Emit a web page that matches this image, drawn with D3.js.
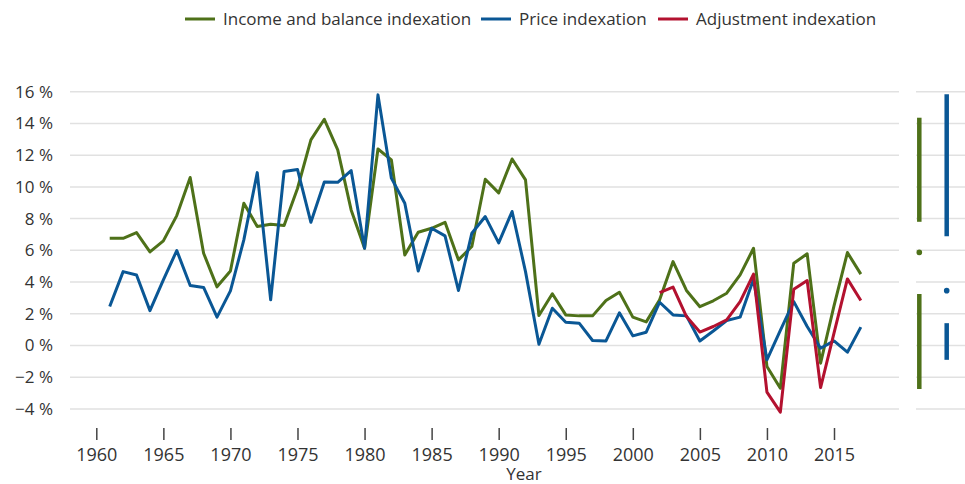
<!DOCTYPE html>
<html>
<head>
<meta charset="utf-8">
<script src="https://cdn.jsdelivr.net/npm/d3@7"></script>
<style>
  html, body { margin: 0; padding: 0; background: #fff; }
  svg { display: block; font-family: "Open Sans", "Noto Sans", sans-serif; }
</style>
</head>
<body>
<svg id="chart" width="965" height="484"></svg>
<script>
// ---- Data ----
const years = d3.range(1961, 2018);
const incomeBalance = [
  6.76, 6.76, 7.12, 5.90, 6.60, 8.19, 10.59, 5.82, 3.70, 4.70,
  8.97, 7.50, 7.65, 7.56, 9.90, 12.96, 14.26, 12.33, 8.55, 6.13,
  12.39, 11.70, 5.71, 7.14, 7.39, 7.77, 5.40, 6.24, 10.48, 9.62,
  11.76, 10.44, 1.89, 3.26, 1.93, 1.87, 1.87, 2.84, 3.36, 1.79,
  1.49, 2.88, 5.29, 3.47, 2.45, 2.82, 3.30, 4.45, 6.13, -1.32,
  -2.69, 5.19, 5.78, -1.11, 2.50, 5.86, 4.50
];
const priceIdx = [
  2.46, 4.66, 4.45, 2.20, 4.14, 5.99, 3.78, 3.66, 1.79, 3.45,
  6.66, 10.90, 2.88, 10.97, 11.10, 7.77, 10.31, 10.29, 11.03, 6.13,
  15.80, 10.55, 8.97, 4.70, 7.39, 6.91, 3.47, 7.08, 8.13, 6.47,
  8.45, 4.66, 0.08, 2.35, 1.47, 1.41, 0.32, 0.29, 2.06, 0.61,
  0.84, 2.73, 1.93, 1.87, 0.29, 0.92, 1.58, 1.79, 4.18, -0.90,
  0.95, 2.77, 1.20, -0.17, 0.29, -0.42, 1.16
];
const adjYears = d3.range(2002, 2018);
const adjustmentIdx = [
  3.34, 3.68, 1.83, 0.85, 1.20, 1.62, 2.77, 4.50, -2.94, -4.20,
  3.55, 4.10, -2.65, 0.78, 4.20, 2.84
];
const seriesNames = ["Income and balance indexation", "Price indexation", "Adjustment indexation"];
const seriesColors = ["#4e7119", "#0a5795", "#b3112f"];
const xTicks = [1960, 1965, 1970, 1975, 1980, 1985, 1990, 1995, 2000, 2005, 2010, 2015];
const yTicks = [-4, -2, 0, 2, 4, 6, 8, 10, 12, 14, 16];
// summary panel: [max, mean+sd, mean, mean-sd, min]
const summaryNames = ["Income and balance indexation", "Price indexation"];
const summaryHigh = [14.36, 15.84];
const summaryUpper = [7.80, 6.89];
const summaryMean = [5.87, 3.46];
const summaryLower = [3.25, 1.41];
const summaryLow = [-2.74, -0.90];

// ---- Layout ----
const svg = d3.select("#chart");
const plotLeft = 70, plotRight = 899;
const panelLeft = 916, panelRight = 965;

const x = d3.scaleLinear().domain([1960, 2015]).range([96.3, 834]);
const y = d3.scaleLinear().domain([-4, 16]).range([409, 91.7]);
const textColor = "#333333";

// gridlines main
svg.append("g").selectAll("line").data(yTicks).join("line")
  .attr("x1", plotLeft).attr("x2", plotRight)
  .attr("y1", d => y(d)).attr("y2", d => y(d))
  .attr("stroke", "#e1e1e1").attr("stroke-width", 1.5);
// gridlines panel
svg.append("g").selectAll("line").data(yTicks).join("line")
  .attr("x1", panelLeft).attr("x2", panelRight)
  .attr("y1", d => y(d)).attr("y2", d => y(d))
  .attr("stroke", "#e1e1e1").attr("stroke-width", 1.5);

// y axis labels
svg.append("g").selectAll("text").data(yTicks).join("text")
  .attr("x", 53).attr("y", d => y(d))
  .attr("dy", "0.35em")
  .attr("text-anchor", "end")
  .attr("font-size", 17)
  .attr("fill", textColor)
  .text(d => (d < 0 ? "\u2212" + Math.abs(d) : d) + " %");

// x axis
const xAxis = d3.axisBottom(x).tickValues(xTicks).tickFormat(d3.format("d"))
  .tickSize(12).tickPadding(8);
const gx = svg.append("g").attr("transform", "translate(0,428)").call(xAxis);
gx.select(".domain").remove();
gx.selectAll(".tick line").attr("stroke", "#444").attr("stroke-width", 1.5);
gx.selectAll(".tick text").attr("font-size", 18).attr("fill", textColor)
  .attr("font-family", "\"Open Sans\", \"Noto Sans\", sans-serif");

svg.append("text").attr("x", 524).attr("y", 480)
  .attr("text-anchor", "middle").attr("font-size", 17).attr("fill", textColor)
  .text("Year");

// lines
const line = d3.line().x(d => x(d[0])).y(d => y(d[1]));
const seriesData = [
  d3.zip(years, incomeBalance),
  d3.zip(years, priceIdx),
  d3.zip(adjYears, adjustmentIdx)
];
svg.append("g").selectAll("path").data(seriesData).join("path")
  .attr("d", line)
  .attr("fill", "none")
  .attr("stroke", (d, i) => seriesColors[i])
  .attr("stroke-width", 3)
  .attr("stroke-linejoin", "round");

// summary panel
const panelX = d3.scalePoint().domain(summaryNames).range([919.3, 946.7]);
const pg = svg.append("g");
summaryNames.forEach((name, i) => {
  const cx = panelX(name);
  pg.append("line").attr("x1", cx).attr("x2", cx)
    .attr("y1", y(summaryHigh[i])).attr("y2", y(summaryUpper[i]))
    .attr("stroke", seriesColors[i]).attr("stroke-width", 4.5);
  pg.append("line").attr("x1", cx).attr("x2", cx)
    .attr("y1", y(summaryLower[i])).attr("y2", y(summaryLow[i]))
    .attr("stroke", seriesColors[i]).attr("stroke-width", 4.5);
  pg.append("circle").attr("cx", cx).attr("cy", y(summaryMean[i]))
    .attr("r", 2.8).attr("fill", seriesColors[i]);
});

// legend
const legendItems = [
  { name: seriesNames[0], color: seriesColors[0], x: 185 },
  { name: seriesNames[1], color: seriesColors[1], x: 481 },
  { name: seriesNames[2], color: seriesColors[2], x: 658 }
];
const lg = svg.append("g");
legendItems.forEach(it => {
  lg.append("line").attr("x1", it.x).attr("x2", it.x + 30)
    .attr("y1", 19).attr("y2", 19)
    .attr("stroke", it.color).attr("stroke-width", 3);
  lg.append("text").attr("x", it.x + 38).attr("y", 19).attr("dy", "0.35em")
    .attr("font-size", 17).attr("fill", textColor).text(it.name);
});
</script>
</body>
</html>
